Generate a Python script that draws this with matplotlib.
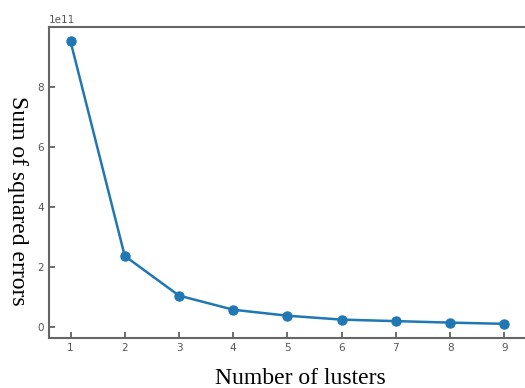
import matplotlib.pyplot as plt

clusters = [1, 2, 3, 4, 5, 6, 7, 8, 9]
sse = [9.52e11, 2.37e11, 1.05e11, 0.58e11, 0.38e11, 0.25e11, 0.20e11, 0.15e11, 0.11e11]

fig = plt.figure(figsize=(5.25, 3.88), dpi=100)
ax = fig.add_axes([0.093, 0.129, 0.909, 0.801])

ax.plot(clusters, sse, color='#1f77b4', marker='o', markersize=6.5, linewidth=1.8)

ax.tick_params(direction='in', length=4, width=1.2, colors='#555555', labelsize=7.5,
               labelcolor='#555555')
for s in ax.spines.values():
    s.set_color('#666666')
    s.set_linewidth(1.5)
ax.yaxis.get_offset_text().set_fontsize(7.5)
ax.yaxis.get_offset_text().set_color('#555555')

# axis titles placed as in the original (y title reads top to bottom)
fig.text(0.573, 0.01, 'Number of lusters', fontfamily='Liberation Serif', fontsize=17,
         ha='center', va='baseline')
fig.text(0.034, 0.482, 'Sum of squared errors', fontfamily='Liberation Serif', fontsize=17,
         rotation=270, ha='center', va='center')

fig.savefig('out.png', dpi=100)
